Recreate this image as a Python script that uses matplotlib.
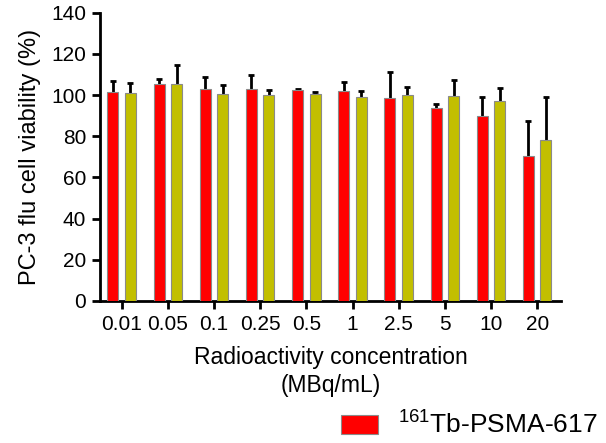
import matplotlib
matplotlib.use("Agg")
import matplotlib.pyplot as plt
import numpy as np

plt.rcParams['font.family'] = ['Liberation Sans', 'DejaVu Sans']
plt.rcParams['mathtext.fontset'] = 'custom'
plt.rcParams['mathtext.rm'] = 'Liberation Sans'
plt.rcParams['mathtext.it'] = 'Liberation Sans:italic'
plt.rcParams['mathtext.bf'] = 'Liberation Sans:bold'

# Concentrations (MBq/mL) and viability (%) with SD
concentrations = ['0.01', '0.05', '0.1', '0.25', '0.5', '1', '2.5', '5', '10', '20']
tb_mean = [101.5, 105.4, 103.0, 103.0, 102.5, 101.9, 98.5, 93.6, 89.9, 70.3]
tb_sd = [5.2, 2.3, 6.0, 6.7, 0.5, 4.6, 12.8, 2.3, 9.4, 17.0]
lu_mean = [100.9, 105.3, 100.6, 100.3, 100.6, 99.0, 100.3, 99.8, 97.2, 78.2]
lu_sd = [5.2, 9.2, 4.2, 2.1, 1.0, 3.2, 3.8, 7.4, 6.3, 20.8]

red = '#FF0000'
olive = '#C2BF00'

fig = plt.figure(figsize=(6.06, 4.43), dpi=100)
ax = fig.add_axes([0.165, 0.321, 0.761, 0.650])

x = np.arange(len(concentrations))
w = 0.24
off = 0.19

b1 = ax.bar(x - off, tb_mean, width=w, color=red, edgecolor='#8a8a8a',
            linewidth=0.8, zorder=3, label='$^{161}$Tb-PSMA-617')
b2 = ax.bar(x + off, lu_mean, width=w, color=olive, edgecolor='#8a8a8a',
            linewidth=0.8, zorder=3)
ax.errorbar(x - off, tb_mean, yerr=tb_sd, fmt='none', ecolor='black',
            elinewidth=2, capsize=2.2, capthick=2, zorder=2)
ax.errorbar(x + off, lu_mean, yerr=lu_sd, fmt='none', ecolor='black',
            elinewidth=2, capsize=2.2, capthick=2, zorder=2)

ax.set_xlim(-0.47, 9.52)
ax.set_ylim(0, 140)
ax.set_yticks(np.arange(0, 141, 20))
ax.set_xticks(x)
ax.set_xticklabels(concentrations)

for s in ['top', 'right']:
    ax.spines[s].set_visible(False)
for s in ['left', 'bottom']:
    ax.spines[s].set_linewidth(2)
ax.tick_params(axis='both', width=2, length=6, labelsize=15, colors='black', pad=4)

ax.set_ylabel('PC-3 flu cell viability (%)', fontsize=17, labelpad=7)
ax.set_xlabel('Radioactivity concentration\n(MBq/mL)', fontsize=16.5, labelpad=9,
              linespacing=1.25)

fig.legend(handles=[b1], loc='upper left', bbox_to_anchor=(0.563, 0.071),
           frameon=False, fontsize=19, handlelength=1.4, handleheight=0.72,
           handletextpad=0.75, borderpad=0, borderaxespad=0)

fig.savefig('out.png', dpi=100)
